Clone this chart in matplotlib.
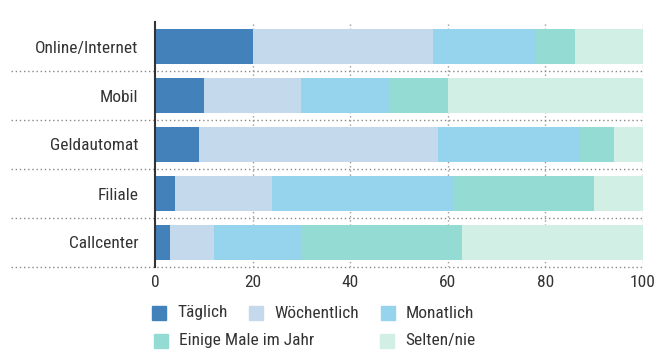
import matplotlib.pyplot as plt
from matplotlib import font_manager
from matplotlib.patches import Rectangle

# pick the narrowest family that is installed
installed = {f.name for f in font_manager.fontManager.ttflist}
family = 'DejaVu Sans'
for cand in ['Roboto Condensed', 'Liberation Sans Narrow', 'Open Sans Condensed', 'Roboto']:
    if cand in installed:
        family = cand
        break
plt.rcParams['font.family'] = [family, 'DejaVu Sans']

# data (percent)
channels = ['Online/Internet', 'Mobil', 'Geldautomat', 'Filiale', 'Callcenter']
taeglich = [20, 10, 9, 4, 3]
woechentlich = [37, 20, 49, 20, 9]
monatlich = [21, 18, 29, 37, 18]
einige_male = [8, 12, 7, 29, 33]
selten = [14, 40, 6, 10, 37]
series_names = ['Täglich', 'Wöchentlich', 'Monatlich', 'Einige Male im Jahr', 'Selten/nie']
colors = ['#4281b9', '#c5d9ed', '#96d3ec', '#94dbd4', '#d2efe6']
x_ticks = [0, 20, 40, 60, 80, 100]

text_col = '#333333'
fs = 12.5

fig = plt.figure(figsize=(6.54, 3.53), dpi=100)
ax = fig.add_axes([155 / 654, 1 - 267 / 353, 488 / 654, 245 / 353])

y = list(range(len(channels)))
left = [0] * len(channels)
for vals, col in zip([taeglich, woechentlich, monatlich, einige_male, selten], colors):
    ax.barh(y, vals, left=left, height=0.73, color=col, zorder=2)
    left = [l + v for l, v in zip(left, vals)]

ax.set_xlim(0, 100)
ax.set_ylim(len(channels) - 0.5, -0.5)
ax.set_yticks(y)
ax.set_yticklabels(channels)
ax.set_xticks(x_ticks)
ax.tick_params(axis='both', length=0, labelsize=fs, colors=text_col)
ax.tick_params(axis='y', pad=12)
ax.tick_params(axis='x', pad=6)

# vertical dotted grid
for t in x_ticks[1:]:
    ax.axvline(t, color='#999999', lw=1, ls=(0, (1, 2)), zorder=1)

# dotted separators between categories, reaching into the label area
for i in range(len(channels)):
    ax.plot([-0.295, 1], [i + 0.5, i + 0.5], transform=ax.get_yaxis_transform(),
            color='#888888', lw=1, ls=(0, (1, 2)), clip_on=False, zorder=3)

for s in ['top', 'right', 'bottom']:
    ax.spines[s].set_visible(False)
ax.spines['left'].set_color('#333333')
ax.spines['left'].set_linewidth(1.5)
ax.spines['left'].set_zorder(4)

# legend drawn by hand
W, H = 654, 353
legend_pos = [(152, 313), (249, 313), (381, 313), (154, 341), (380, 341)]
for (px, py), name, col in zip(legend_pos, series_names, colors):
    fig.add_artist(Rectangle((px / W, 1 - (py + 7) / H), 14 / W, 14 / H,
                             transform=fig.transFigure, color=col))
    fig.text((px + 25) / W, 1 - py / H, name, fontsize=fs, color=text_col,
             va='center', ha='left')

fig.savefig('out.png', dpi=100)
